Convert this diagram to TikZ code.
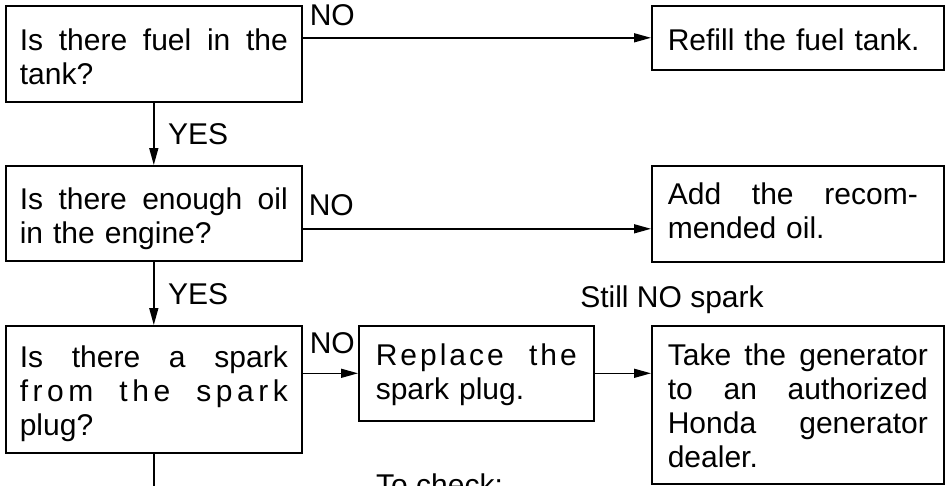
\documentclass[tikz,border=0pt]{standalone}
\usepackage{fontspec}
\setmainfont{Liberation Sans}
\usetikzlibrary{arrows.meta}
\newcommand{\jline}[2]{\leavevmode\hbox to #1{#2}}
\begin{document}
\begin{tikzpicture}[x=1pt,y=-1pt,
  txt/.style={font=\fontsize{30}{34}\selectfont},
  box/.style={txt, draw, line width=1.6pt, inner ysep=0pt, anchor=north west, align=left},
  lbox/.style={box, text width=268pt, inner xsep=14pt},
  rbox/.style={box, text width=260pt, inner xsep=16pt},
  arr/.style={line width=1.5pt, -{Triangle[length=17pt,width=9pt]}},
  plain/.style={line width=1.5pt},
  lbl/.style={txt, inner sep=0pt, anchor=base west}]
\useasboundingbox (0,0) rectangle (947,485);
% question boxes
\node[lbox, text height=45pt, text depth=51pt] (q1) at (5,5)
  {\jline{268pt}{Is\hfill there\hfill fuel\hfill in\hfill the}\\tank?};
\node[lbox, text height=44pt, text depth=51pt] (q2) at (5,165)
  {\jline{268pt}{Is\hfill there\hfill enough\hfill oil}\\in the engine?};
\node[lbox, text height=42pt, text depth=85pt] (q3) at (5,325)
  {\jline{268pt}{Is\hfill there\hfill a\hfill spark}\\\jline{268pt}{\addfontfeature{LetterSpace=15}from\hfill the\hfill spark}\\plug?};
% action boxes
\node[rbox, text height=45pt, text depth=19pt] (a1) at (651,5)
  {Refill the fuel tank.};
\node[rbox, text height=39pt, text depth=57pt] (a2) at (651,165)
  {\jline{250pt}{Add\hfill the\hfill recom-}\\mended oil.};
\node[box, text width=201pt, inner xsep=17pt, text height=40pt, text depth=55pt] (a3) at (358,325)
  {\jline{201pt}{\addfontfeature{LetterSpace=10}Replace\hfill the}\\spark plug.};
\node[rbox, text height=40pt, text depth=118pt] (a4) at (651,325)
  {\jline{260pt}{Take\hfill the\hfill generator}\\\jline{260pt}{to\hfill an\hfill authorized}\\\jline{260pt}{Honda\hfill generator}\\dealer.};
% connector start points
\coordinate (n1) at (q1.east |- a1.west);
\coordinate (n2) at ([yshift=-15.5pt]q2.east);
\coordinate (n3) at (q3.east |- a3.west);
\coordinate (down) at ([yshift=-60pt]q3.south);
% connectors
\draw[arr] (n1) -- (a1.west);
\draw[arr] (n2) -- (n2 -| a2.west);
\draw[arr] (n3) -- (a3.west);
\draw[arr] (a3.east) -- (a3.east -| a4.west);
\draw[arr] (q1.south) -- (q2.north);
\draw[arr] (q2.south) -- (q3.north);
\draw[plain] (q3.south) -- (down);
% labels
\node[lbl] (no1) at ([xshift=7pt,yshift=12pt]n1) {NO};
\node[lbl] (no2) at ([xshift=6pt,yshift=13pt]n2) {NO};
\node[lbl] (no3) at ([xshift=7pt,yshift=20pt]n3) {NO};
\node[lbl] (yes1) at ([xshift=14pt,yshift=-42pt]q1.south) {YES};
\node[lbl] (yes2) at ([xshift=14pt,yshift=-43pt]q2.south) {YES};
\node[txt, inner sep=0pt, anchor=base] (still) at (672,307) {Still NO spark};
\node[lbl] (check) at (376,495) {To check:};
\end{tikzpicture}
\end{document}
